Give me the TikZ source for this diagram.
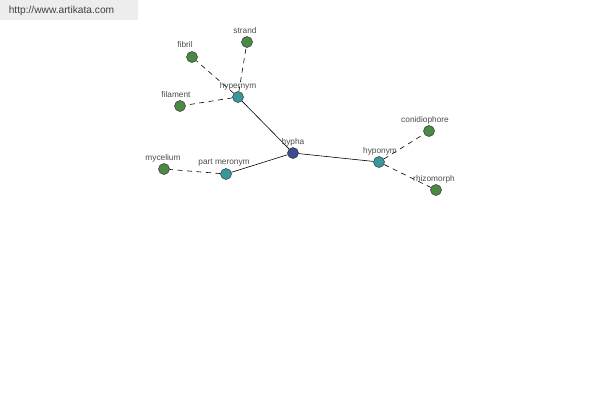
\documentclass[tikz,border=0pt]{standalone}
\usepackage{fontspec}
\setmainfont{Liberation Sans}
\begin{document}
\begin{tikzpicture}[x=1pt,y=-1pt,
  dot/.style={circle,draw=black!80,line width=0.5pt,minimum size=11pt,inner sep=0pt},
  lbl/.style={font=\fontsize{8.3}{9}\selectfont,text=black!70,inner sep=0pt},
  rel/.style={line width=0.6pt,black},
  drel/.style={line width=0.6pt,black,dash pattern=on 5pt off 4.5pt}]
\useasboundingbox (0,0) rectangle (600,400);
\fill[black!7] (0,0) rectangle (138,20);
\node[font=\fontsize{10.2}{11}\selectfont,text=black!75,inner sep=0pt] (url) at (61.5,11) {http://www.artikata.com};
\definecolor{gcol}{HTML}{4A8A45}
\definecolor{tcol}{HTML}{3A9898}
\definecolor{hcol}{HTML}{3E4A92}
\node[dot,fill=hcol] (hypha) at (293,153) {};
\node[dot,fill=tcol] (hyper) at (238,97) {};
\node[dot,fill=tcol] (part) at (226,174) {};
\node[dot,fill=tcol] (hypo) at (379,162) {};
\node[dot,fill=gcol] (strand) at (247,42) {};
\node[dot,fill=gcol] (fibril) at (192,57) {};
\node[dot,fill=gcol] (filament) at (180,106) {};
\node[dot,fill=gcol] (mycelium) at (164,169) {};
\node[dot,fill=gcol] (conid) at (429,131) {};
\node[dot,fill=gcol] (rhizo) at (436,190) {};
\draw[rel] (hypha) -- (hyper);
\draw[rel] (hypha) -- (part);
\draw[rel] (hypha) -- (hypo);
\draw[drel] (hyper) -- (strand);
\draw[drel] (hyper) -- (fibril);
\draw[drel] (hyper) -- (filament);
\draw[drel] (part) -- (mycelium);
\draw[drel] (hypo) -- (conid);
\draw[drel] (hypo) -- (rhizo);
\node[lbl] (lhypha) at (293,142) {hypha};
\node[lbl] (lhyper) at (238,86) {hypernym};
\node[lbl] (lpart) at (224,163) {part meronym};
\node[lbl] (lhypo) at (380,151) {hyponym};
\node[lbl] (lstrand) at (245,31) {strand};
\node[lbl] (lfibril) at (185,45) {fibril};
\node[lbl] (lfil) at (176,95) {filament};
\node[lbl] (lmyc) at (163,158) {mycelium};
\node[lbl] (lcon) at (425,120) {conidiophore};
\node[lbl] (lrhi) at (434,179) {rhizomorph};
\end{tikzpicture}
\end{document}
